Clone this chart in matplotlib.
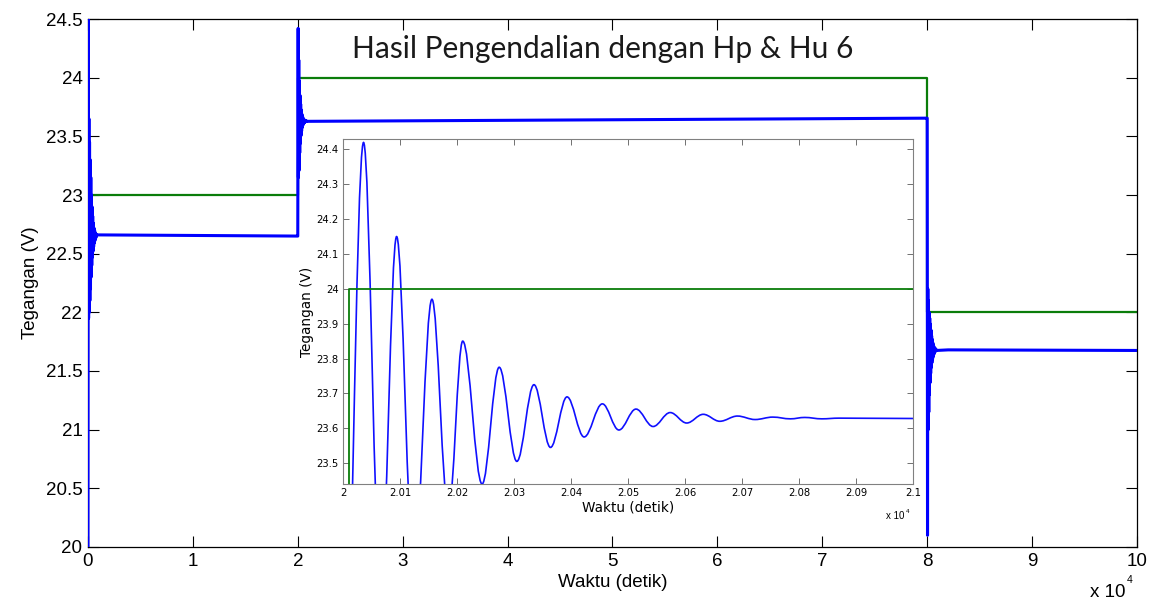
import numpy as np
import matplotlib.pyplot as plt
from matplotlib.path import Path
from matplotlib.patches import PathPatch

# setpoint (referensi) tegangan
ref_t = [0, 20010, 20010, 80000, 80000, 100000]
ref_v = [23.0, 23.0, 24.0, 24.0, 22.0, 22.0]

# respon tegangan, titik puncak/lembah osilasi
step0_t = [0, 30, 60, 90, 120, 150, 180, 210, 240, 270, 300, 330, 360, 390, 420, 450,
           480, 510, 540, 570, 600, 630, 660, 690, 720, 750, 780, 810, 1000, 19990]
step0_v = [19.9, 24.6, 21.95, 23.65, 22.0, 23.45, 22.1, 23.3, 22.2, 23.15, 22.3, 23.0,
           22.4, 22.9, 22.47, 22.82, 22.52, 22.76, 22.56, 22.72, 22.59, 22.7, 22.61,
           22.68, 22.63, 22.67, 22.64, 22.66, 22.66, 22.65]

step2_t = [20000, 20036, 20066, 20094, 20124, 20156, 20185, 20210, 20244, 20274, 20305,
           20335, 20364, 20393, 20423, 20455, 20484, 20514, 20544, 20574, 20603, 20632,
           20661, 20692, 20723, 20754, 20785, 20810, 20840, 20870]
step2_v = [22.65, 24.42, 23.15, 24.15, 23.21, 23.97, 23.36, 23.85, 23.44, 23.775, 23.505,
           23.725, 23.545, 23.69, 23.575, 23.67, 23.595, 23.655, 23.605, 23.645, 23.615,
           23.64, 23.62, 23.635, 23.625, 23.632, 23.627, 23.631, 23.627, 23.629]
mid_t = [21000, 79990]
mid_v = [23.628, 23.655]

step8_t = [80000, 80030, 80060, 80090, 80120, 80150, 80180, 80210, 80240, 80270, 80300,
           80330, 80360, 80390, 80420, 80450, 80480, 80510, 80540, 80570, 80600, 80630,
           80660, 80690, 80720, 80750, 80780, 80810, 80840, 80870, 82000, 100000]
step8_v = [23.655, 20.1, 22.2, 21.0, 22.1, 21.15, 22.0, 21.3, 21.95, 21.4, 21.9, 21.48,
           21.85, 21.53, 21.8, 21.57, 21.77, 21.6, 21.74, 21.62, 21.72, 21.64, 21.705,
           21.655, 21.695, 21.665, 21.69, 21.67, 21.685, 21.675, 21.68, 21.675]

main_xticks = [0, 10000, 20000, 30000, 40000, 50000, 60000, 70000, 80000, 90000, 100000]
main_xlabels = ['0', '1', '2', '3', '4', '5', '6', '7', '8', '9', '10']
main_yticks = [20, 20.5, 21, 21.5, 22, 22.5, 23, 23.5, 24, 24.5]
main_ylabels = ['20', '20.5', '21', '21.5', '22', '22.5', '23', '23.5', '24', '24.5']

ins_xticks = [20000, 20100, 20200, 20300, 20400, 20500, 20600, 20700, 20800, 20900, 21000]
ins_xlabels = ['2', '2.01', '2.02', '2.03', '2.04', '2.05', '2.06', '2.07', '2.08', '2.09', '2.1']
ins_yticks = [23.5, 23.6, 23.7, 23.8, 23.9, 24.0, 24.1, 24.2, 24.3, 24.4]
ins_ylabels = ['23.5', '23.6', '23.7', '23.8', '23.9', '24', '24.1', '24.2', '24.3', '24.4']

plt.rcParams['font.family'] = ['Liberation Sans', 'DejaVu Sans']

fig = plt.figure(figsize=(11.62, 6.02), dpi=100)
ax = fig.add_axes([0.0757, 0.0914, 0.9028, 0.877])

t_all = step0_t + step2_t + mid_t + step8_t
v_all = step0_v + step2_v + mid_v + step8_v
ax.plot(ref_t, ref_v, color='#0a7d0a', lw=1.6)
ax.plot(t_all, v_all, color='#0000ff', lw=2.2, zorder=3)  # di atas garis sumbu

ax.set_xlim(0, 100000)
ax.set_ylim(20, 24.5)
ax.set_xticks(main_xticks)
ax.set_xticklabels(main_xlabels)
ax.set_yticks(main_yticks)
ax.set_yticklabels(main_ylabels)
ax.tick_params(direction='in', length=8, width=0.8, labelsize=13.5, top=True, right=True, pad=4)
ax.set_xlabel('Waktu (detik)', fontsize=13.5, labelpad=3)
ax.set_ylabel('Tegangan (V)', fontsize=13.5, labelpad=5)
for s in ax.spines.values():
    s.set_linewidth(0.9)

ax.text(0.491, 0.926, 'Hasil Pengendalian dengan Hp & Hu 6', transform=ax.transAxes,
        ha='center', va='baseline', fontsize=21.5, family='Lato', color='#1a1a1a')

# faktor skala x 10^4
ax.text(0.9886, -0.095, 'x 10', transform=ax.transAxes, ha='right', va='baseline', fontsize=13.5)
ax.text(0.9905, -0.068, '4', transform=ax.transAxes, ha='left', va='baseline', fontsize=7.5)

# inset: zoom transien pada t = 2 x 10^4
ins = fig.add_axes([0.2952, 0.196, 0.4905, 0.5731])
ins.plot([20000, 20010, 20010, 21000], [23.0, 23.0, 24.0, 24.0], color='#0a7d0a', lw=1.3)

# kurva halus antar titik puncak/lembah (bezier dengan tangen datar)
k = 0.3642
verts = [(step2_t[0], step2_v[0])]
codes = [Path.MOVETO]
for i in range(1, len(step2_t)):
    t0, v0 = step2_t[i - 1], step2_v[i - 1]
    t1, v1 = step2_t[i], step2_v[i]
    dt = t1 - t0
    verts += [(t0 + k * dt, v0), (t1 - k * dt, v1), (t1, v1)]
    codes += [Path.CURVE4] * 3
verts.append((mid_t[0], mid_v[0]))
codes.append(Path.LINETO)
ins.add_patch(PathPatch(Path(verts, codes), fill=False, ec='#1010ff', lw=1.2))

ins.set_xlim(20000, 21000)
ins.set_ylim(23.44, 24.43)
ins.set_xticks(ins_xticks)
ins.set_xticklabels(ins_xlabels, family='DejaVu Sans')
ins.set_yticks(ins_yticks)
ins.set_yticklabels(ins_ylabels, family='DejaVu Sans')
ins.tick_params(direction='in', length=4, width=0.7, labelsize=7.2, top=True, right=True,
                pad=3, color='#707070')
ins.set_xlabel('Waktu (detik)', fontsize=9.8, family='DejaVu Sans', labelpad=2)
ins.set_ylabel('Tegangan (V)', fontsize=9.8, family='DejaVu Sans', labelpad=2)
for s in ins.spines.values():
    s.set_color('#808080')
    s.set_linewidth(0.8)
ins.text(0.985, -0.1, 'x 10', transform=ins.transAxes, ha='right', va='baseline', fontsize=7)
ins.text(0.988, -0.083, '4', transform=ins.transAxes, ha='left', va='baseline', fontsize=4.5)

fig.savefig('out.png', dpi=100)
